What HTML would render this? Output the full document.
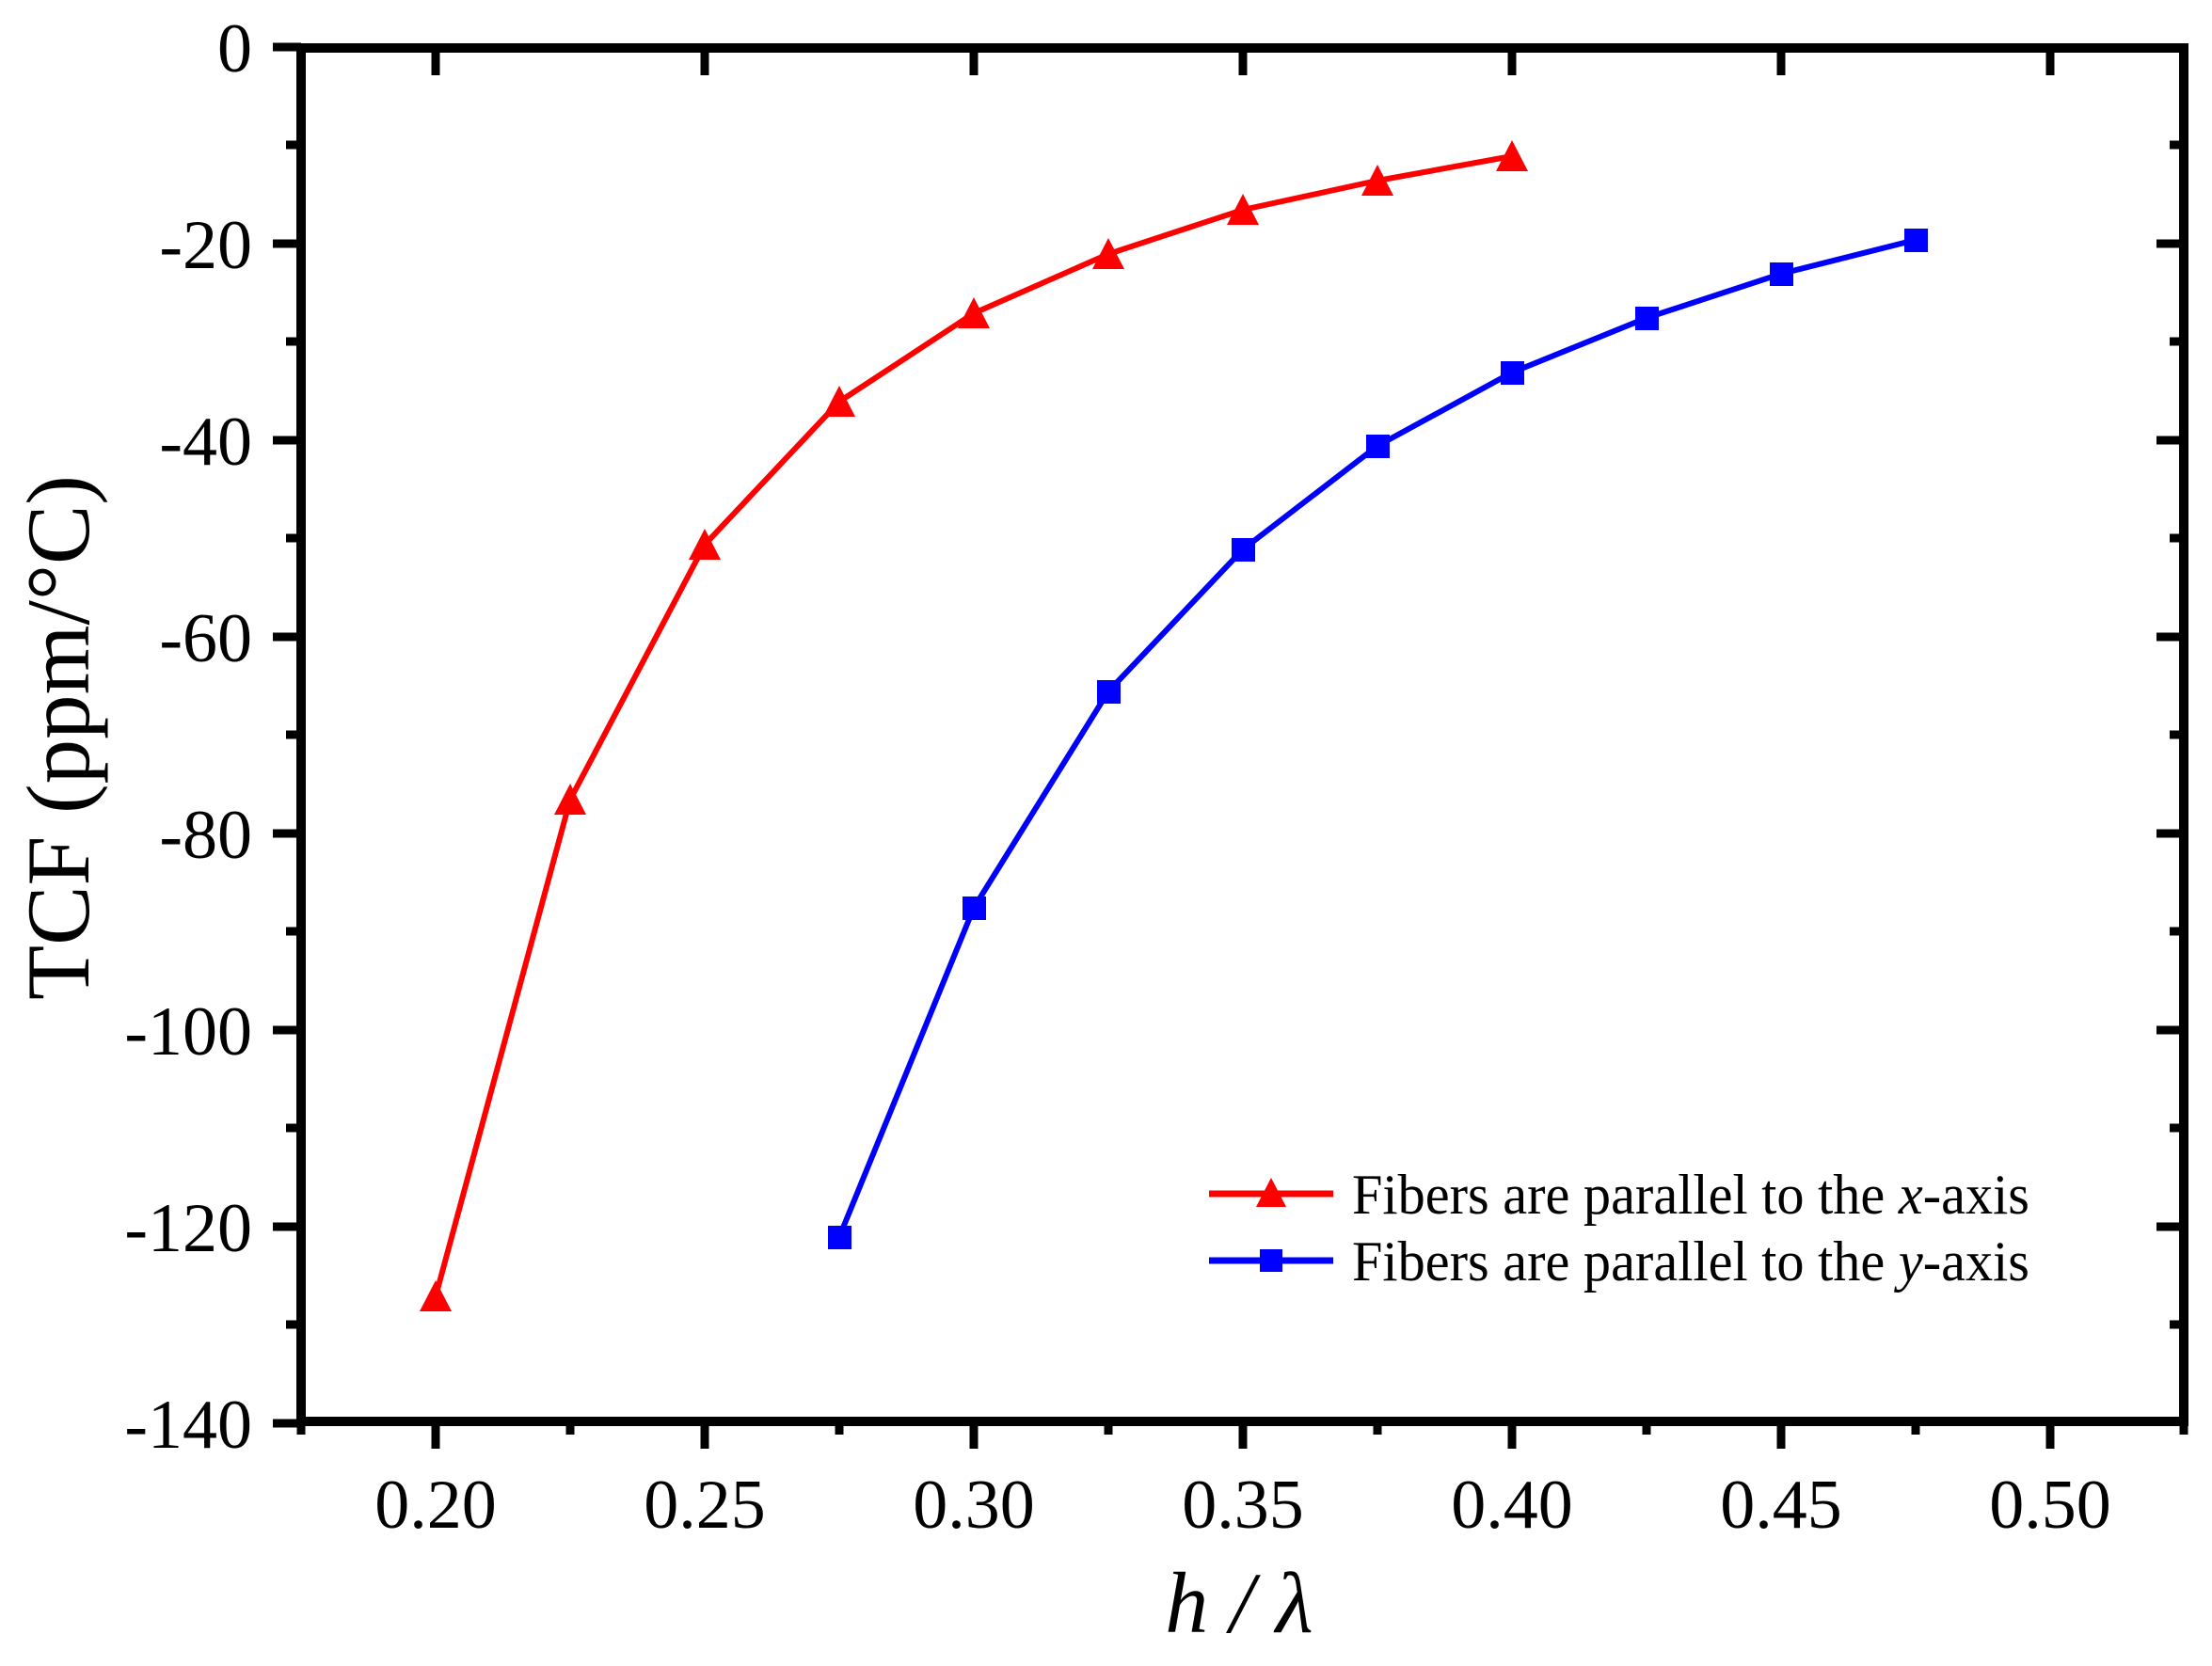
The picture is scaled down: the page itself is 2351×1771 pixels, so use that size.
<!DOCTYPE html>
<html><head><meta charset="utf-8"><style>html,body{margin:0;padding:0;background:#fff}svg{display:block}</style></head>
<body>
<svg xmlns="http://www.w3.org/2000/svg" width="2351" height="1771" viewBox="0 0 2351 1771" font-family="'Liberation Serif', serif">
<rect width="2351" height="1771" fill="#fff"/>
<g id="ticks" stroke="#000" stroke-width="9" fill="none">
<!-- y ticks left (outward) -->
<path d="M290 50H320M290 259H320M290 468H320M290 677H320M290 886H320M290 1095H320M290 1304H320M290 1513H320"/>
<path d="M304 154H320M304 363H320M304 572H320M304 781H320M304 990H320M304 1199H320M304 1408H320"/>
<!-- right ticks inward -->
<path d="M2292 259H2321M2292 468H2321M2292 677H2321M2292 886H2321M2292 1095H2321M2292 1304H2321"/>
<path d="M2306 154H2321M2306 363H2321M2306 572H2321M2306 781H2321M2306 990H2321M2306 1199H2321M2306 1408H2321"/>
<!-- x ticks bottom outward -->
<path d="M463 1510V1540M749 1510V1540M1035 1510V1540M1321 1510V1540M1607 1510V1540M1893 1510V1540M2179 1510V1540"/>
<path d="M320 1510V1525M606 1510V1525M892 1510V1525M1178 1510V1525M1464 1510V1525M1750 1510V1525M2036 1510V1525M2321 1510V1525"/>
<!-- top ticks inward -->
<path d="M463 50V80M749 50V80M1035 50V80M1321 50V80M1607 50V80M1893 50V80M2179 50V80"/>
</g>
<rect x="320" y="51" width="2001" height="1460" fill="none" stroke="#000" stroke-width="10"/>
<g font-size="74" text-anchor="end" fill="#000">
<text x="268" y="76">0</text><text x="268" y="285">-20</text><text x="268" y="494">-40</text><text x="268" y="703">-60</text><text x="268" y="912">-80</text><text x="268" y="1121">-100</text><text x="268" y="1330">-120</text><text x="268" y="1539">-140</text>
</g>
<g font-size="74" text-anchor="middle" fill="#000">
<text x="463" y="1624">0.20</text><text x="749" y="1624">0.25</text><text x="1035" y="1624">0.30</text><text x="1321" y="1624">0.35</text><text x="1607" y="1624">0.40</text><text x="1893" y="1624">0.45</text><text x="2179" y="1624">0.50</text>
</g>
<text transform="translate(94,784) rotate(-90)" font-size="95" text-anchor="middle">TCF (ppm/°C)</text>
<text x="1317" y="1735" font-size="92" font-style="italic" text-anchor="middle">h / λ</text>
<!-- red series: x px = 463 + (x-0.2)/0.05*286 ; y = 51 + (-v)*10.45 -->
<polyline fill="none" stroke="#f00" stroke-width="6" points="463,1378 606,850 749,579 892,427 1035,333 1178,270 1321,223 1464,192 1607,166"/>
<polyline fill="none" stroke="#00f" stroke-width="6" points="892,1315 1035,965 1178,735 1321,584 1464,474 1607,396 1750,338 1893,291 2036,255"/>
<g fill="#f00">
<path d="M463,1361l-17,33h34z"/><path d="M606,833l-17,33h34z"/><path d="M749,562l-17,33h34z"/><path d="M892,410l-17,33h34z"/><path d="M1035,316l-17,33h34z"/><path d="M1178,253l-17,33h34z"/><path d="M1321,206l-17,33h34z"/><path d="M1464,175l-17,33h34z"/><path d="M1607,149l-17,33h34z"/>
</g>
<g fill="#00f">
<rect x="880" y="1303" width="25" height="25"/><rect x="1023" y="953" width="25" height="25"/><rect x="1166" y="723" width="25" height="25"/><rect x="1309" y="572" width="25" height="25"/><rect x="1452" y="462" width="25" height="25"/><rect x="1595" y="384" width="25" height="25"/><rect x="1738" y="326" width="25" height="25"/><rect x="1881" y="279" width="25" height="25"/><rect x="2024" y="243" width="25" height="25"/>
</g>
<!-- legend -->
<line x1="1285" y1="1269" x2="1417" y2="1269" stroke="#f00" stroke-width="7"/>
<path d="M1351,1252l-16,31h32z" fill="#f00"/>
<line x1="1285" y1="1340" x2="1417" y2="1340" stroke="#00f" stroke-width="7"/>
<rect x="1339" y="1328" width="24" height="24" fill="#00f"/>
<text x="1437" y="1290" font-size="60" textLength="720" lengthAdjust="spacingAndGlyphs">Fibers are parallel to the <tspan font-style="italic">x</tspan>-axis</text>
<text x="1437" y="1361" font-size="60" textLength="720" lengthAdjust="spacingAndGlyphs">Fibers are parallel to the <tspan font-style="italic">y</tspan>-axis</text>
</svg>
</body></html>
